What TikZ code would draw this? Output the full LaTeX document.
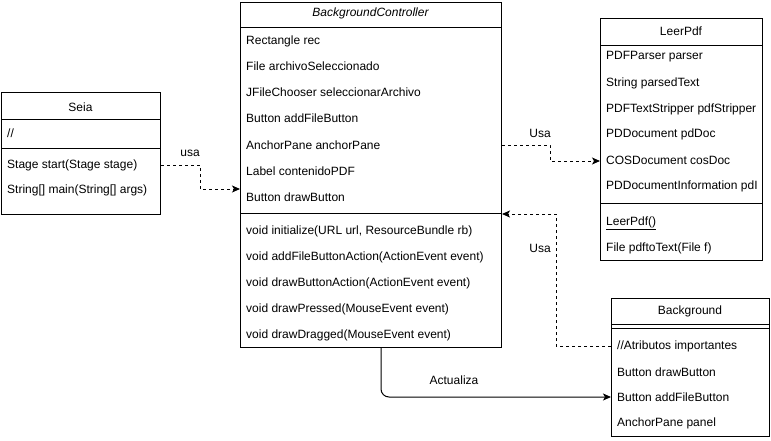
\documentclass[tikz,border=0pt]{standalone}
\usepackage{fontspec}
\setmainfont{Liberation Sans}
\usetikzlibrary{arrows.meta}
\begin{document}
\begin{tikzpicture}[x=1pt,y=-1pt,
  box/.style={draw,line width=1pt,fill=white,anchor=north west,inner sep=0pt},
  row/.style={anchor=west,inner sep=0pt,font=\fontsize{12}{14}\selectfont},
  title/.style={anchor=center,inner sep=0pt,font=\fontsize{12}{14}\selectfont},
  sep/.style={line width=1pt},
  dep/.style={line width=1pt,dash pattern=on 3pt off 3pt,-{Stealth[length=8pt,width=7pt,inset=2pt]}},
  assoc/.style={line width=1pt,rounded corners=8pt,-{Stealth[length=8pt,width=7pt,inset=2pt]}},
  lbl/.style={inner sep=0pt,font=\fontsize{12}{14}\selectfont}]
\useasboundingbox (0,0) rectangle (771,440);
% ---------- Seia ----------
\node[box,minimum width=159pt,minimum height=122pt] (seia) at (1,92) {};
\draw[sep] (1,119) -- (160,119);
\draw[sep] (1,148) -- (160,148);
\node[title] (seiaT) at (80.5,107) {Seia};
\node[row] (seiaA) at (7,133) {//};
\node[row] (seiaM1) at (7,165) {Stage start(Stage stage)};
\node[row] (seiaM2) at (7,190) {String[] main(String[] args)};
% ---------- BackgroundController ----------
\node[box,minimum width=261pt,minimum height=345pt] (bc) at (240,2) {};
\draw[sep] (240,27) -- (501,27);
\draw[sep] (240,213) -- (501,213);
\node[title,font=\fontsize{12}{14}\selectfont\itshape] (bcT) at (370.5,13) {BackgroundController};
\node[row] (bc1) at (246,41) {Rectangle rec};
\node[row] (bc2) at (246,66) {File archivoSeleccionado};
\node[row] (bc3) at (246,92) {JFileChooser seleccionarArchivo};
\node[row] (bc4) at (246,118) {Button addFileButton};
\node[row] (bc5) at (246,145) {AnchorPane anchorPane};
\node[row] (bc6) at (246,171) {Label contenidoPDF};
\node[row] (bc7) at (246,197) {Button drawButton};
\node[row] (bcm1) at (246,231) {void initialize(URL url, ResourceBundle rb)};
\node[row] (bcm2) at (246,257) {void addFileButtonAction(ActionEvent event)};
\node[row] (bcm3) at (246,283) {void drawButtonAction(ActionEvent event)};
\node[row] (bcm4) at (246,309) {void drawPressed(MouseEvent event)};
\node[row] (bcm5) at (246,335) {void drawDragged(MouseEvent event)};
% ---------- LeerPdf ----------
\node[box,minimum width=162pt,minimum height=242pt] (leer) at (600,18) {};
\draw[sep] (600,45) -- (762,45);
\draw[sep] (600,203) -- (762,203);
\node[title] (leerT) at (681,31) {LeerPdf};
\begin{scope}
\clip (leer.north west) rectangle ([xshift=-1pt]leer.south east);
\node[row] (lp1) at (606,57) {PDFParser parser};
\node[row] (lp2) at (606,83) {String parsedText};
\node[row] (lp3) at (606,109) {PDFTextStripper pdfStripper};
\node[row] (lp4) at (606,134) {PDDocument pdDoc};
\node[row] (lp5) at (606,160) {COSDocument cosDoc};
\node[row] (lp6) at (606,186) {PDDocumentInformation pdI};
\end{scope}
\node[row] (lpm1) at (606,223) {\underline{LeerPdf()}};
\node[row] (lpm2) at (606,248) {File pdftoText(File f)};
% ---------- Background ----------
\node[box,minimum width=158pt,minimum height=138pt] (bg) at (611,298) {};
\draw[sep] (611,324) -- (769,324);
\draw[sep] (611,328) -- (769,328);
\node[title] (bgT) at (690,311) {Background};
\node[row] (bg1) at (617,346) {//Atributos importantes};
\node[row] (bg2) at (617,372) {Button drawButton};
\node[row] (bg3) at (617,397) {Button addFileButton};
\node[row] (bg4) at (617,423) {AnchorPane panel};
% ---------- connectors ----------
\coordinate (c1a) at (200,165);
\coordinate (c1b) at (200,189);
\draw[dep] (seia.east |- seiaM1) -- (c1a) -- (c1b) -- (c1b -| bc.west);
\node[lbl] (l1) at (190,153) {usa};
\coordinate (c2a) at (550,145);
\coordinate (c2b) at (550,161);
\draw[dep] (bc.east |- bc5) -- (c2a) -- (c2b) -- (c2b -| leer.west);
\node[lbl] (l2) at (540,133) {Usa};
\coordinate (c3a) at (556,346);
\coordinate (c3b) at (556,214);
\draw[dep] (bg.west |- bg1) -- (c3a) -- (c3b) -- (c3b -| bc.east);
\node[lbl] (l3) at (540,248) {Usa};
\coordinate (c4a) at (381,397);
\draw[assoc] (bc.south -| c4a) -- (c4a) -- (c4a -| bg.west);
\node[lbl] (l4) at (454,380) {Actualiza};
\end{tikzpicture}
\end{document}
